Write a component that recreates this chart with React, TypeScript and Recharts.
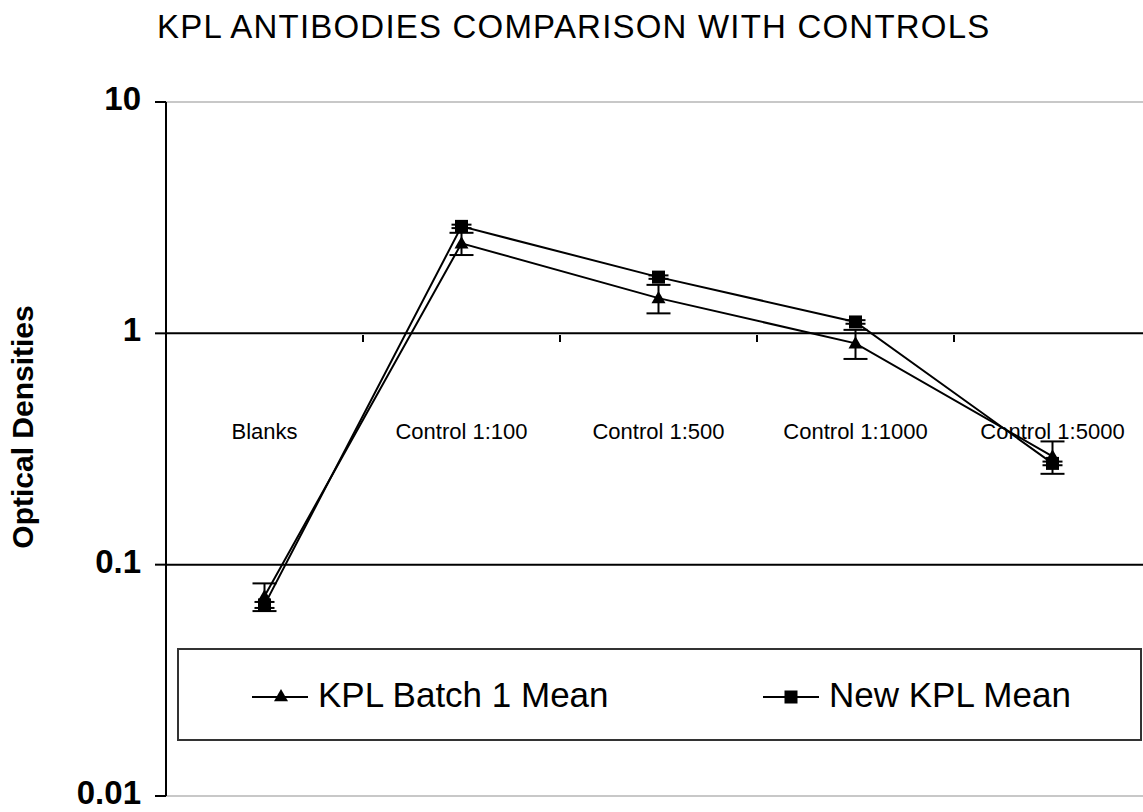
import { LineChart, Line, XAxis, YAxis, ReferenceLine, ErrorBar, Legend } from "recharts";

const categories = ["Blanks", "Control 1:100", "Control 1:500", "Control 1:1000", "Control 1:5000"];
const batch1Mean = [0.073, 2.45, 1.42, 0.905, 0.294];
const batch1Err = [0.01, 0.27, 0.2, 0.13, 0.047];
const newKplMean = [0.067, 2.9, 1.75, 1.12, 0.274];
const newKplErr = [0.002, 0.05, 0.03, 0.02, 0.005];
const yTicks = [0.01, 0.1, 1, 10];

const data = categories.map((name, i) => ({
  name,
  batch1: batch1Mean[i],
  batch1Err: batch1Err[i],
  newKpl: newKplMean[i],
  newKplErr: newKplErr[i],
}));

const FONT = '"Liberation Sans", Arial, sans-serif';
const BAND = 197;
const AXIS_Y = 335; // where the category axis crosses (value 1)
const LABEL_Y = 439;

function Triangle({ cx, cy, size = 7 }: { cx: number; cy: number; size?: number }) {
  return <path d={`M${cx},${cy - size} L${cx + size},${cy + size * 0.75} L${cx - size},${cy + size * 0.75} Z`} fill="#000" />;
}

function Square({ cx, cy, size = 6.5 }: { cx: number; cy: number; size?: number }) {
  return <rect x={cx - size} y={cy - size} width={size * 2} height={size * 2} fill="#000" />;
}

function CategoryTick(props: any) {
  const { x, payload, index } = props;
  return (
    <g>
      {index > 0 && (
        <line x1={x - BAND / 2} x2={x - BAND / 2} y1={AXIS_Y} y2={AXIS_Y + 7} stroke="#000" strokeWidth={2} />
      )}
      <text x={x} y={LABEL_Y} textAnchor="middle" fontSize={22} fontFamily={FONT} fill="#000">
        {payload.value}
      </text>
    </g>
  );
}

function ValueTick(props: any) {
  const { x, y, payload } = props;
  return (
    <text x={x} y={y} dy="0.24em" textAnchor="end" fontSize={33} fontWeight="bold" fontFamily={FONT} fill="#000">
      {String(payload.value)}
    </text>
  );
}

function YLabel(props: any) {
  const { viewBox } = props;
  const cx = 33;
  const cy = viewBox.y + viewBox.height / 2 - 22;
  return (
    <text
      x={cx}
      y={cy}
      transform={`rotate(-90, ${cx}, ${cy})`}
      textAnchor="middle"
      fontSize={30}
      fontWeight="bold"
      fontFamily={FONT}
      fill="#000"
    >
      Optical Densities
    </text>
  );
}

function LegendBox(props: any) {
  const { payload = [] } = props;
  const lefts = [73, 584];
  return (
    <div
      style={{
        position: "relative",
        width: 965,
        height: 93,
        border: "2px solid #333",
        boxSizing: "border-box",
        fontFamily: FONT,
        background: "#fff",
      }}
    >
      {payload.map((entry: any, i: number) => (
        <div
          key={entry.value}
          style={{ position: "absolute", left: lefts[i], top: 0, height: 89, display: "flex", alignItems: "center" }}
        >
          <svg width={56} height={20} style={{ marginRight: 10 }}>
            <line x1={0} x2={56} y1={12} y2={12} stroke="#000" strokeWidth={2} />
            {entry.dataKey === "batch1" ? <Triangle cx={29} cy={11} size={7} /> : <Square cx={28} cy={12} size={6.5} />}
          </svg>
          <span style={{ fontSize: 35, color: "#000", lineHeight: "35px" }}>{entry.value}</span>
        </div>
      ))}
    </div>
  );
}

export default function App() {
  return (
    <div style={{ position: "absolute", left: 0, top: 0, width: 1143, height: 812, overflow: "hidden", background: "#fff" }}>
      <LineChart width={1160} height={830} data={data} margin={{ top: 102, right: 9, bottom: 18, left: 0 }}>
        <ReferenceLine y={10} stroke="#c8c8c8" strokeWidth={2} />
        <ReferenceLine y={0.01} stroke="#c8c8c8" strokeWidth={2} />
        <ReferenceLine y={0.1} stroke="#000" strokeWidth={2} />
        <ReferenceLine y={1} stroke="#000" strokeWidth={2} />
        <XAxis
          dataKey="name"
          scale="point"
          padding={{ left: BAND / 2, right: BAND / 2 }}
          height={16}
          axisLine={false}
          tickLine={false}
          interval={0}
          tick={<CategoryTick />}
        />
        <YAxis
          scale="log"
          domain={[0.01, 10]}
          ticks={yTicks}
          interval={0}
          width={166}
          tickSize={11}
          tickMargin={14}
          axisLine={{ stroke: "#000", strokeWidth: 2 }}
          tickLine={{ stroke: "#000", strokeWidth: 2 }}
          tick={<ValueTick />}
          label={YLabel}
        />
        <Legend
          layout="horizontal"
          verticalAlign="middle"
          align="center"
          content={LegendBox}
          wrapperStyle={{ left: 177, top: 648, width: 965, height: 93 }}
        />
        <Line
          dataKey="batch1"
          name="KPL Batch 1 Mean"
          type="linear"
          stroke="#000"
          strokeWidth={2}
          isAnimationActive={false}
          dot={(p: any) => <Triangle key={`t${p.index}`} cx={p.cx} cy={p.cy} />}
          activeDot={false}
        >
          <ErrorBar dataKey="batch1Err" width={12} strokeWidth={2} stroke="#000" isAnimationActive={false} />
        </Line>
        <Line
          dataKey="newKpl"
          name="New KPL Mean"
          type="linear"
          stroke="#000"
          strokeWidth={2}
          isAnimationActive={false}
          dot={(p: any) => <Square key={`s${p.index}`} cx={p.cx} cy={p.cy} />}
          activeDot={false}
        >
          <ErrorBar dataKey="newKplErr" width={10} strokeWidth={2} stroke="#000" isAnimationActive={false} />
        </Line>
      </LineChart>
      <div
        style={{
          position: "absolute",
          left: 157,
          top: 10,
          fontFamily: FONT,
          fontSize: 33,
          lineHeight: 1,
          letterSpacing: 1.2,
          color: "#000",
          whiteSpace: "nowrap",
        }}
      >
        KPL ANTIBODIES COMPARISON WITH CONTROLS
      </div>
    </div>
  );
}
